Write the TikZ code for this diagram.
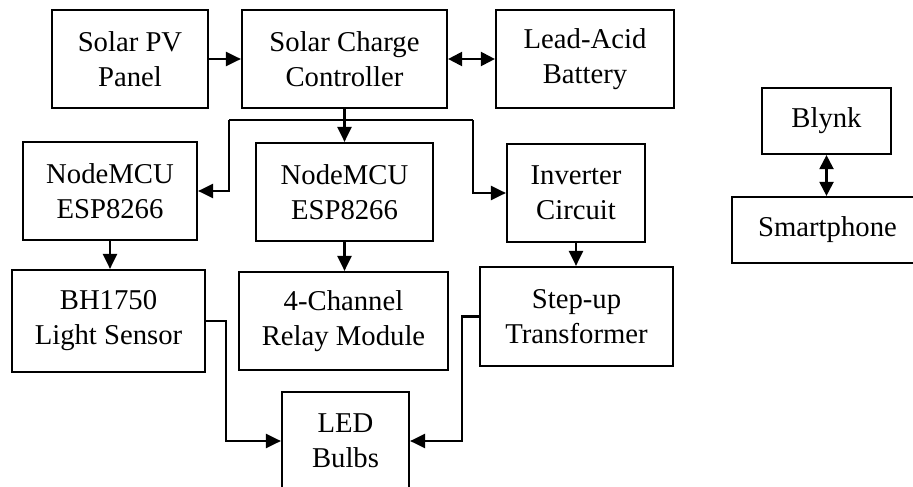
\documentclass[tikz,border=0pt]{standalone}
\usepackage{fontspec}
\setmainfont{Liberation Serif}
\usetikzlibrary{arrows.meta}
\begin{document}
\begin{tikzpicture}[x=1pt,y=-1pt,
  blk/.style={draw,line width=2.2pt,inner sep=0pt,align=center,
    font=\fontsize{28.7}{35}\selectfont},
  arr/.style={line width=2.2pt,-{Triangle[length=15pt,width=14pt]}},
  darr/.style={line width=2.2pt,{Triangle[length=14pt,width=14pt]}-{Triangle[length=14pt,width=14pt]}},
  wire/.style={line width=2.2pt}]
\useasboundingbox (0,0) rectangle (913,487);
\clip (0,0) rectangle (913,487);
\node[blk,minimum width=156pt,minimum height=98pt] (pv) at (130,59) {Solar PV\\Panel};
\node[blk,minimum width=205pt,minimum height=98pt] (scc) at (344.5,59) {Solar Charge\\Controller};
\node[blk,minimum width=178pt,minimum height=98pt] (bat) at (585,59) {Lead-Acid\\Battery};
\node[blk,minimum width=174pt,minimum height=98pt] (n1) at (110,191) {NodeMCU\\ESP8266};
\node[blk,minimum width=177pt,minimum height=98pt] (n2) at (344.5,192) {NodeMCU\\ESP8266};
\node[blk,minimum width=138pt,minimum height=98pt] (inv) at (576,193) {Inverter\\Circuit};
\node[blk,minimum width=193pt,minimum height=102pt] (bh) at (108.5,321) {BH1750\\Light Sensor};
\node[blk,minimum width=209pt,minimum height=98pt] (relay) at (343.5,321) {4-Channel\\Relay Module};
\node[blk,minimum width=193pt,minimum height=99pt] (step) at (576.5,316.5) {Step-up\\Transformer};
\node[blk,minimum width=127pt,minimum height=98pt] (led) at (345.5,441) {LED\\Bulbs};
\node[blk,minimum width=129pt,minimum height=66pt] (blynk) at (826.5,121) {Blynk};
\node[blk,minimum width=191pt,minimum height=66pt] (phone) at (827.5,230) {Smartphone};
\coordinate (bl) at (229,120);
\coordinate (br) at (473,120);
\draw[arr] (pv) -- (scc);
\draw[darr] (scc) -- (bat);
\draw[arr] (scc.south) -- (n2.north);
\draw[wire] (bl) -- (br);
\draw[arr] (bl) |- (n1.east);
\draw[arr] (br) |- (inv.west);
\draw[arr] (n1.south) -- (n1.south |- bh.north);
\draw[arr] (n2.south) -- (n2.south |- relay.north);
\draw[arr] (inv.south) -- (inv.south |- step.north);
\draw[arr] (bh.east) -- ++(20,0) |- (led.west);
\draw[arr] (step.west) -- ++(-17,0) |- (led.east);
\draw[darr] (blynk.south) -- (blynk.south |- phone.north);
\end{tikzpicture}
\end{document}
